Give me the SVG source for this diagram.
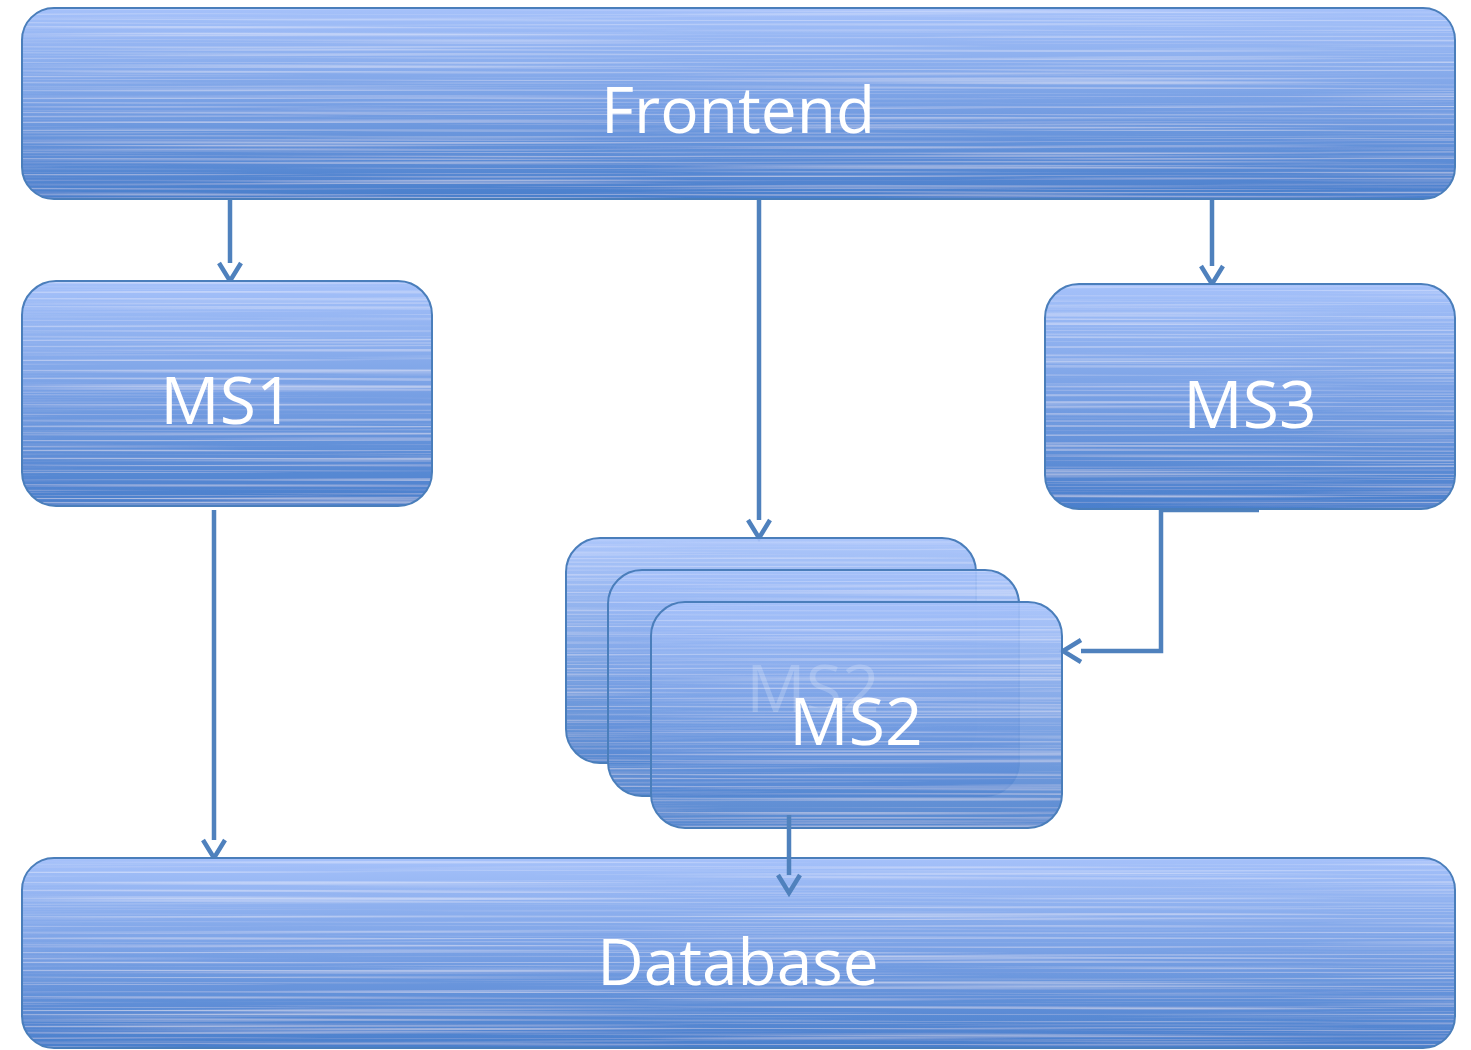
<svg xmlns="http://www.w3.org/2000/svg" width="1471" height="1050" viewBox="0 0 1471 1050">
  <defs>
    <linearGradient id="boxFill" x1="0" y1="0" x2="0" y2="1">
      <stop offset="0" stop-color="#a5c1fa"/>
      <stop offset="0.5" stop-color="#78a0e4"/>
      <stop offset="1" stop-color="#4a7fcc"/>
    </linearGradient>
    <!-- fine horizontal streak texture laid over the box fill -->
    <filter id="streaks" x="0" y="0" width="1" height="1">
      <feTurbulence type="fractalNoise" baseFrequency="0.0015 0.5" numOctaves="2" seed="3" result="noise"/>
      <feColorMatrix in="noise" type="matrix" values="0 0 0 0 1  0 0 0 0 1  0 0 0 0 1  0 0 0 1.0 -0.47" result="lines"/>
      <feComposite in="lines" in2="SourceAlpha" operator="in" result="clipped"/>
      <feMerge>
        <feMergeNode in="SourceGraphic"/>
        <feMergeNode in="clipped"/>
      </feMerge>
    </filter>
    <marker id="vhead" markerUnits="userSpaceOnUse" markerWidth="40" markerHeight="40" refX="0" refY="0" orient="auto" overflow="visible">
      <path d="M0,-11 L18,0 L0,11" fill="none" stroke="#4f81bd" stroke-width="4.5" stroke-linejoin="miter"/>
    </marker>
    <style>
      .box { fill: url(#boxFill); filter: url(#streaks); }
      .edge { fill: none; stroke: #4a7ebb; stroke-width: 2; }
      .card { fill: url(#boxFill); fill-opacity: 0.92; filter: url(#streaks); }
      .label { font-family: "Open Sans", "Noto Sans", "DejaVu Sans", sans-serif; fill: #ffffff; text-anchor: middle; }
      .ghost { fill: #ffffff; fill-opacity: 0.2; }
      .conn { fill: none; stroke: #4f81bd; stroke-width: 4.5; marker-end: url(#vhead); }
    </style>
  </defs>

  <g id="connectors">
    <path class="conn" d="M230,200 V263"/>
    <path class="conn" d="M759,200 V520"/>
    <path class="conn" d="M1212,200 V266"/>
    <path class="conn" d="M214,510 V840"/>
    <path class="conn" d="M1259,510 H1161 V651 H1081"/>
  </g>

  <g id="frontend">
    <rect class="box" x="22" y="8" width="1433" height="191" rx="32"/>
    <rect class="edge" x="22" y="8" width="1433" height="191" rx="32"/>
    <text class="label" x="738" y="133" font-size="64">Frontend</text>
  </g>

  <g id="ms1">
    <rect class="box" x="22" y="281" width="410" height="225" rx="34"/>
    <rect class="edge" x="22" y="281" width="410" height="225" rx="34"/>
    <text class="label" x="227" y="424" font-size="66">MS1</text>
  </g>

  <g id="ms3">
    <rect class="box" x="1045" y="284" width="410" height="225" rx="34"/>
    <rect class="edge" x="1045" y="284" width="410" height="225" rx="34"/>
    <text class="label" x="1250" y="428" font-size="66">MS3</text>
  </g>

  <g id="ms2">
    <!-- three stacked instances; the middle label shows faintly through the front card -->
    <rect class="card" x="566" y="538" width="410" height="225" rx="34"/>
    <rect class="edge" x="566" y="538" width="410" height="225" rx="34"/>
    <rect class="card" x="608" y="570" width="411" height="226" rx="34"/>
    <rect class="edge" x="608" y="570" width="411" height="226" rx="34"/>
    <rect class="card" x="651" y="602" width="411" height="226" rx="34"/>
    <rect class="edge" x="651" y="602" width="411" height="226" rx="34"/>
    <text class="label ghost" x="813" y="712" font-size="66">MS2</text>
    <text class="label" x="856" y="745" font-size="66">MS2</text>
  </g>

  <g id="database">
    <rect class="box" x="22" y="858" width="1433" height="190" rx="32"/>
    <rect class="edge" x="22" y="858" width="1433" height="190" rx="32"/>
    <text class="label" x="738" y="985" font-size="64">Database</text>
  </g>

  <g id="connectors-front">
    <path class="conn" d="M789,815 V875"/>
  </g>
</svg>
